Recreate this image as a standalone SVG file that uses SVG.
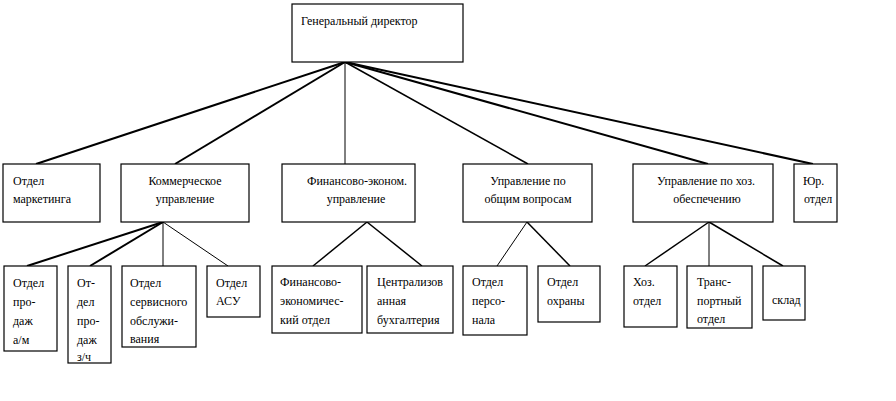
<svg xmlns="http://www.w3.org/2000/svg" width="896" height="401" viewBox="0 0 896 401">
<style>
rect{fill:#fff;stroke:#000;stroke-width:1.2}
text{font-family:"Liberation Serif","Times New Roman",serif;font-size:12px;fill:#000}
.c{text-anchor:middle}
.t{stroke:#000;stroke-width:2;fill:none}
.n{stroke:#000;stroke-width:1;fill:none}
</style>
<rect x="0" y="0" width="896" height="401" style="fill:#fff;stroke:none"/>
<g id="connectors">
<line class="t" x1="345" y1="62" x2="36" y2="164"/>
<line class="t" x1="345" y1="62" x2="175" y2="164"/>
<line class="n" x1="345" y1="62" x2="345" y2="164"/>
<line class="n" x1="345" y1="62" x2="528" y2="164" style="stroke-width:1.5"/>
<line class="t" x1="345" y1="62" x2="708" y2="164"/>
<line class="t" x1="345" y1="62" x2="813" y2="164"/>
<line class="t" x1="163" y1="222" x2="27" y2="266"/>
<line class="t" x1="163" y1="222" x2="90" y2="266"/>
<line class="n" x1="163" y1="222" x2="163" y2="266"/>
<line class="n" x1="163" y1="222" x2="228" y2="266"/>
<line class="t" x1="367" y1="222" x2="313" y2="266" style="stroke-width:1.5"/>
<line class="t" x1="367" y1="222" x2="422" y2="266" style="stroke-width:1.5"/>
<line class="n" x1="527" y1="222" x2="497" y2="266"/>
<line class="t" x1="527" y1="222" x2="570" y2="266" style="stroke-width:1.5"/>
<line class="t" x1="709" y1="222" x2="645" y2="266" style="stroke-width:1.5"/>
<line class="n" x1="709" y1="222" x2="709" y2="266"/>
<line class="t" x1="709" y1="222" x2="783" y2="266" style="stroke-width:1.5"/>
</g>
<g id="gen"><rect x="292" y="4" width="171" height="58"/><text x="301" y="25">Генеральный директор</text></g>
<g id="marketing"><rect x="3" y="164" width="97" height="58"/><text x="13" y="185">Отдел</text><text x="13" y="203">маркетинга</text></g>
<g id="commercial"><rect x="121" y="164" width="128" height="58"/><text class="c" x="185" y="185">Коммерческое</text><text class="c" x="185" y="203">управление</text></g>
<g id="fin"><rect x="282" y="164" width="133" height="58"/><text class="c" x="357" y="185">Финансово-эконом.</text><text class="c" x="356" y="203">управление</text></g>
<g id="general"><rect x="463" y="164" width="129" height="58"/><text class="c" x="528" y="185">Управление по</text><text class="c" x="528" y="203">общим вопросам</text></g>
<g id="hoz"><rect x="633" y="164" width="140" height="58"/><text class="c" x="706" y="185">Управление по хоз.</text><text class="c" x="707" y="203">обеспечению</text></g>
<g id="legal"><rect x="794" y="164" width="43" height="58"/><text x="803" y="185">Юр.</text><text x="804" y="203">отдел</text></g>
<g id="sales-am"><rect x="4" y="266" width="53" height="85"/><text x="13" y="287">Отдел</text><text x="13" y="306">про-</text><text x="13" y="325">даж</text><text x="13" y="344">а/м</text></g>
<g id="sales-parts"><rect x="68" y="266" width="43" height="97"/><text x="77" y="287">От-</text><text x="77" y="306">дел</text><text x="77" y="325">про-</text><text x="77" y="344">даж</text><text x="77" y="361">з/ч</text></g>
<g id="service"><rect x="122" y="266" width="74" height="81"/><text x="130" y="287">Отдел</text><text x="130" y="306">сервисного</text><text x="130" y="325">обслужи-</text><text x="130" y="343">вания</text></g>
<g id="asu"><rect x="207" y="266" width="53" height="51"/><text x="216" y="287">Отдел</text><text x="216" y="305">АСУ</text></g>
<g id="fin-econ"><rect x="272" y="266" width="90" height="67"/><text x="280" y="286">Финансово-</text><text x="280" y="305">экономичес-</text><text x="280" y="324">кий отдел</text></g>
<g id="accounting"><rect x="367" y="266" width="86" height="67"/><text x="377" y="286">Централизов</text><text x="377" y="305">анная</text><text x="377" y="324">бухгалтерия</text></g>
<g id="personnel"><rect x="463" y="266" width="64" height="69"/><text x="472" y="286">Отдел</text><text x="472" y="305">персо-</text><text x="472" y="324">нала</text></g>
<g id="security"><rect x="538" y="266" width="62" height="56"/><text x="547" y="286">Отдел</text><text x="547" y="305">охраны</text></g>
<g id="hoz-dept"><rect x="624" y="266" width="53" height="61"/><text x="633" y="286">Хоз.</text><text x="633" y="305">отдел</text></g>
<g id="transport"><rect x="687" y="266" width="65" height="62"/><text x="697" y="286">Транс-</text><text x="697" y="305">портный</text><text x="697" y="323">отдел</text></g>
<g id="warehouse"><rect x="763" y="266" width="42" height="54"/><text x="772" y="304">склад</text></g>
</svg>
